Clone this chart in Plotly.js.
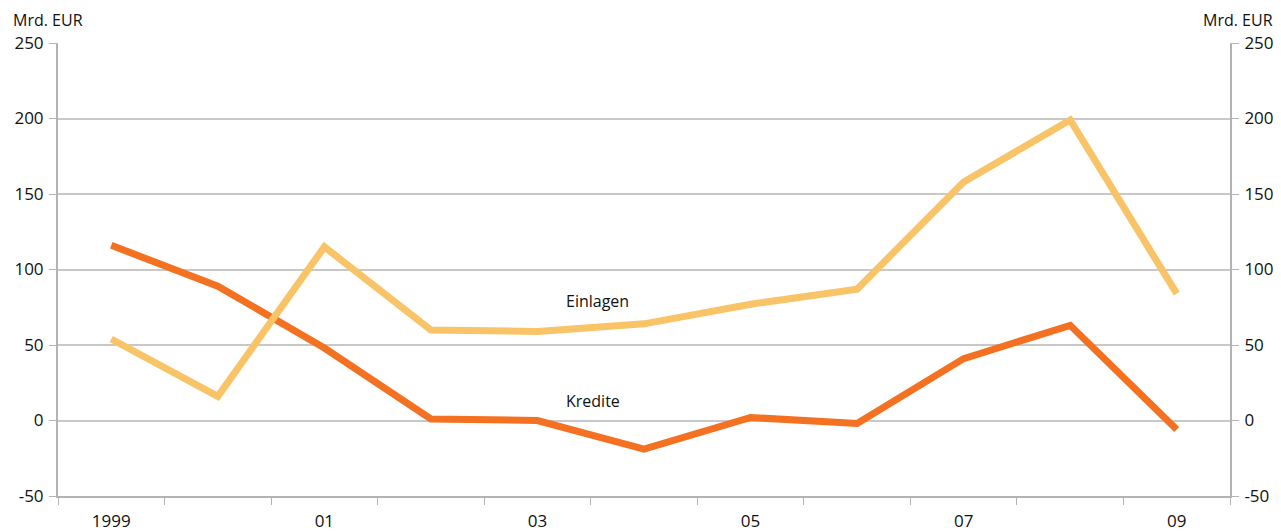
<!DOCTYPE html>
<html><head><meta charset="utf-8">
<script src="https://cdn.plot.ly/plotly-3.0.1.min.js"></script>
<style>html,body{margin:0;padding:0;background:#fff}#chart{width:1281px;height:531px}</style>
</head><body><div id="chart"></div>
<script>
const years = ["1999","2000","2001","2002","2003","2004","2005","2006","2007","2008","2009"];
const yearLabels = ["1999","","01","","03","","05","","07","","09"];
const einlagen = [54, 16, 115, 60, 59, 64, 77, 87, 158, 199, 84];
const kredite = [116, 89, 48, 1, 0, -19, 2, -2, 41, 63, -6];
const yTicks = [-50, 0, 50, 100, 150, 200, 250];
const yTickLabels = ["-50", "0", "50", "100", "150", "200", "250"];
const unitLabel = "Mrd. EUR";
const seriesNames = ["Einlagen", "Kredite"];

const font = {family: "Open Sans, Noto Sans, sans-serif", size: 17, color: "#111"};
const smallFont = {family: "Open Sans, Noto Sans, sans-serif", size: 16, color: "#111"};
const traces = [
  {x: years, y: einlagen, name: seriesNames[0], type: "scatter", mode: "lines",
   line: {color: "#f8c467", width: 7}, yaxis: "y2"},
  {x: years, y: kredite, name: seriesNames[1], type: "scatter", mode: "lines",
   line: {color: "#f37121", width: 7}}
];
const yCommon = {range: [-50, 250], tickvals: yTicks, ticktext: yTickLabels, ticks: "outside", ticklen: 7,
  tickcolor: "#b3b3b3", showline: true, linecolor: "#b3b3b3", linewidth: 2,
  zeroline: false, tickfont: font, fixedrange: true, ticklabelstandoff: 2};
const layout = {
  width: 1281, height: 531,
  margin: {l: 58, r: 51, t: 43, b: 35},
  paper_bgcolor: "#fff", plot_bgcolor: "#fff",
  showlegend: false,
  font: font,
  xaxis: {type: "category", tickvals: years, ticktext: yearLabels, tickson: "boundaries",
    ticks: "outside", ticklen: 7, tickcolor: "#b3b3b3", showline: true, linecolor: "#b3b3b3",
    linewidth: 2, showgrid: false, tickfont: font, range: [-0.5, 10.5], ticklabelstandoff: 9},
  yaxis: Object.assign({}, yCommon, {showgrid: true, gridcolor: "#c8c8c8", gridwidth: 2, side: "left"}),
  yaxis2: Object.assign({}, yCommon, {overlaying: "y", side: "right", showgrid: false}),
  annotations: [
    {text: unitLabel, xref: "paper", yref: "paper", x: -0.040, y: 1.0, yshift: 23,
     xanchor: "left", yanchor: "middle", showarrow: false, font: smallFont},
    {text: unitLabel, xref: "paper", yref: "paper", x: 1.038, y: 1.0, yshift: 23,
     xanchor: "right", yanchor: "middle", showarrow: false, font: smallFont},
    {text: seriesNames[0], x: 4.56, y: 79, xref: "x", yref: "y", showarrow: false, font: smallFont},
    {text: seriesNames[1], x: 4.52, y: 13, xref: "x", yref: "y", showarrow: false, font: smallFont}
  ]
};
Plotly.newPlot("chart", traces, layout, {displayModeBar: false, staticPlot: true});
</script></body></html>
